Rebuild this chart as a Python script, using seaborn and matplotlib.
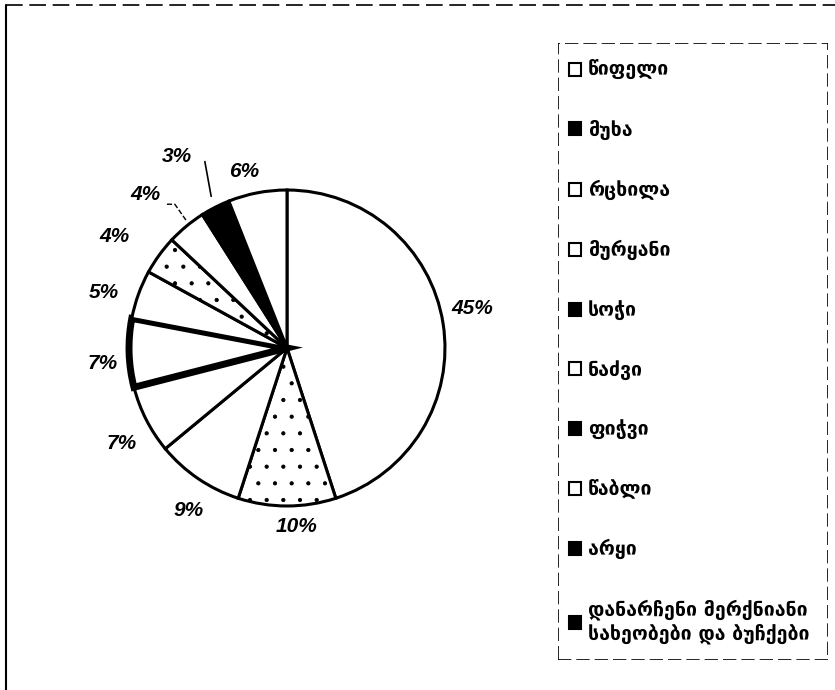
import numpy as np
import seaborn as sns
import matplotlib.pyplot as plt
from matplotlib.patches import Patch, Rectangle
from matplotlib.lines import Line2D

sns.set_style("white")
plt.rcParams['font.family'] = ['DejaVu Sans']
plt.rcParams['text.color'] = 'black'
plt.rcParams['hatch.linewidth'] = 0.6

# data
species = ["წიფელი", "მუხა", "რცხილა", "მურყანი", "სოჭი",
           "ნაძვი", "ფიჭვი", "წაბლი", "არყი",
           "დანარჩენი მერქნიანი\nსახეობები და ბუჩქები"]
shares = [45, 10, 9, 7, 7, 5, 4, 4, 3, 6]
legend_dark = [False, True, False, False, True, False, True, False, True, True]

# styles for the scanned look
face = ["white", "white", "white", "white", "white", "white", "white", "white", "black", "white"]
hatch = [None, ".", None, None, None, None, ".", None, None, None]
edge_w = [2.2, 2.2, 2.2, 2.2, 5, 2.2, 2.2, 2.2, 2.2, 2.2]
lab_r = [1.2, 1.13, 1.2, 1.21, 1.17, 1.21, 1.3, 1.32, 1.4, 1.15]

fig = plt.figure(figsize=(8.35, 6.9), dpi=100)

ax = fig.add_axes([87 / 835, 142 / 690, 400 / 835, 400 / 690])
wedges, _ = ax.pie(shares, startangle=90, counterclock=False, radius=1,
                   colors=face, wedgeprops=dict(edgecolor="black", linewidth=2))
for w, h, lw in zip(wedges, hatch, edge_w):
    if h:
        w.set_hatch(h)
    w.set_linewidth(lw)
ax.set_xlim(-1.266, 1.266)
ax.set_ylim(-1.266, 1.266)
ax.set_aspect("equal")
ax.axis("off")

for i, (w, v) in enumerate(zip(wedges, shares)):
    ang = np.deg2rad((w.theta1 + w.theta2) / 2 + 3)
    x, y = lab_r[i] * np.cos(ang), lab_r[i] * np.sin(ang)
    ax.text(x, y, f"{v}%", ha="center", va="center", fontsize=15, color="black",
            fontweight="bold", fontstyle="italic", family="Liberation Sans")

# leader lines for small slices
ax.plot([-0.52, -0.48], [1.18, 0.96], color="black", lw=1.2)
ax.plot([-0.76, -0.71, -0.64], [0.91, 0.91, 0.81], color="black", lw=1, ls="--")

# legend panel
lax = fig.add_axes([558 / 835, 30 / 690, 270 / 835, 617 / 690])
lax.axis("off")
lax.add_patch(Rectangle((0, 0), 1, 1, transform=lax.transAxes, fill=False,
                        edgecolor="black", lw=1.2, ls=(0, (8, 3))))
handles = [Patch(facecolor="black" if d else "white", edgecolor="black", lw=1.5)
           for d in legend_dark]
lax.legend(handles, species, loc="upper left", bbox_to_anchor=(0.0, 0.99),
           frameon=False, prop=dict(size=14, weight="bold"),
           labelspacing=2.05, handlelength=0.65, handleheight=0.65,
           handletextpad=0.35, borderaxespad=0.15)

# outer frame of the scan
fig.add_artist(Line2D([6 / 835, 6 / 835], [0, 685 / 690], color="black", lw=1.5))
fig.add_artist(Line2D([6 / 835, 1], [685 / 690, 685 / 690], color="black", lw=1.2,
                      ls=(0, (10, 4))))

fig.savefig("out.png", dpi=100)
